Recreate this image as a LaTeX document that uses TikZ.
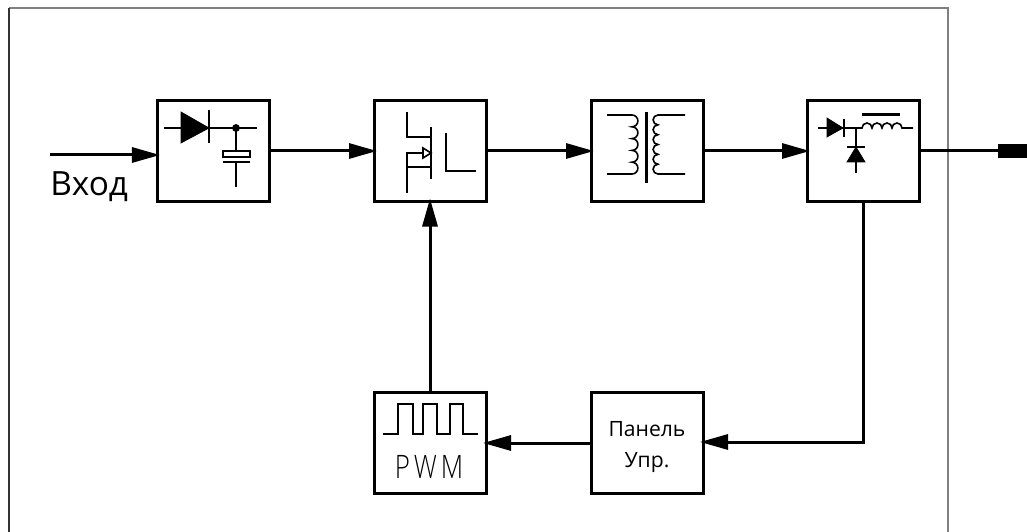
\documentclass[tikz,border=0pt]{standalone}
\usepackage{fontspec}
\setmainfont{Open Sans}
\newfontfamily\pwmfont[LetterSpace=12,FakeStretch=0.8]{Open Sans Light}
\usepackage{tikz}
\usetikzlibrary{arrows.meta}
\tikzset{
	block/.style={draw, line width=0.6mm, minimum width=22.4mm, minimum height=20.2mm, inner sep=0pt, outer sep=0pt},
	wire/.style={line width=0.32mm},
	flow/.style={line width=0.6mm, -{Triangle[length=5.6mm, width=3mm, fill=black]}, shorten >=-0.6mm},
	link/.style={line width=0.6mm}
}

\begin{document}
\begin{tikzpicture}[x=0.2mm, y=-0.2mm]
			%%%%% START %%%%%
			\useasboundingbox (0, 0) rectangle (1027, 532);
			
			\draw[line width=0.3mm, color=black!50] (9, 8) -- (948, 8) -- (948, 532);
			\draw[line width=0.3mm, color=black!80] (9, 8) -- (9, 532);
			
			\node[block] (rectifier) at (213, 151) {};
			\node[block] (switch) at (430, 151) {};
			\node[block] (transformer) at (647, 151) {};
			\node[block] (output) at (863, 151) {};
			\node[block] (pwm) at (430, 443) {};
			\node[block] (panel) at (647, 443) {};
			
			\coordinate (inputstart) at (50, 155);
			\coordinate (outputend) at (998, 151);
			\coordinate (feedback) at (863, 442);
			\node[anchor=base west, inner sep=0pt, font=\fontsize{19}{24}\selectfont] (inputlabel) at (50, 195) {Вход};
			\node[inner sep=0pt, font=\fontsize{18.4}{22}\selectfont\pwmfont] (pwmlabel) at (429, 467) {PWM};
			\node[anchor=base, inner sep=0pt, font=\fontsize{12}{16}\selectfont] (panelupper) at (647, 436) {Панель};
			\node[anchor=base, inner sep=0pt, font=\fontsize{12}{16}\selectfont] (panellower) at (647, 467) {Упр.};
			
			% connectors
			\draw[flow] (inputstart) -- (inputstart -| rectifier.west);
			\draw[flow] (rectifier) -- (switch);
			\draw[flow] (switch) -- (transformer);
			\draw[flow] (transformer) -- (output);
			\draw[link] (output.east) -- (outputend);
			\draw[fill=black] (outputend |- 0, 144) rectangle (1027, 157);
			\draw[flow] (pwm.north) -- (switch.south);
			\draw[flow] (panel.west) -- (panel.west -| pwm.east);
			\draw[flow] (output.south) |- (feedback) -- (feedback -| panel.east);
			
			% diode and capacitor
			\draw[wire] (164, 128) -- (257, 128);
			\draw[fill=black] (181, 112) -- (209, 128) -- (181, 143) -- cycle;
			\draw[wire] (209, 110) -- (209, 143);
			\draw[fill=black] (236, 128) circle (3.5);
			\draw[wire] (236, 128) -- (236, 151);
			\draw[wire, fill=white] (223, 151) rectangle (250, 157);
			\draw[line width=0.4mm] (223, 162) -- (250, 162);
			\draw[wire] (236, 162) -- (236, 187);
			
			% transistor
			\draw[wire] (407, 112) -- (407, 137) -- (431, 137);
			\draw[wire] (431, 127) -- (431, 179);
			\draw[wire] (423, 153) -- (407, 153) -- (407, 193);
			\draw[wire] (407, 167) -- (431, 167);
			\draw[wire, fill=white] (423, 148) -- (431, 153) -- (423, 158) -- cycle;
			\draw[wire] (446, 133) -- (446, 171) -- (476, 171);
			
			% transformer
			\draw[line width=0.6mm] (646, 112) -- (646, 183);
			\draw[wire] (607, 115) -- (632, 115) \foreach \i in {1,...,5} {arc (-90:90:5.9)} -- (607, 174);
			\draw[wire] (685, 115) -- (658, 115) \foreach \i in {1,...,6} {arc (-90:-270:4.92)} -- (685, 174);
			
			% output diodes and choke
			\draw[wire] (818, 128) -- (862, 128) \foreach \i in {1,...,4} {arc (180:360:5)} -- (913, 128);
			\draw[fill=black] (827, 118) -- (843, 128) -- (827, 137) -- cycle;
			\draw[wire] (844, 119) -- (844, 137);
			\draw[wire] (856, 128) -- (856, 173);
			\draw[wire] (847, 147) -- (865, 147);
			\draw[fill=black] (856, 147) -- (865, 162) -- (847, 162) -- cycle;
			\draw[line width=0.6mm] (862, 115) -- (900, 115);
			
			% pulses
			\draw[wire] (383, 434) -- (398, 434) -- (398, 404) -- (413, 404) -- (413, 434) -- (423, 434) -- (423, 404) -- (437, 404) -- (437, 434) -- (450, 434) -- (450, 404) -- (463, 404) -- (463, 434) -- (478, 434);
			
			%%%%% END %%%%%
		\end{tikzpicture}
\end{document}
